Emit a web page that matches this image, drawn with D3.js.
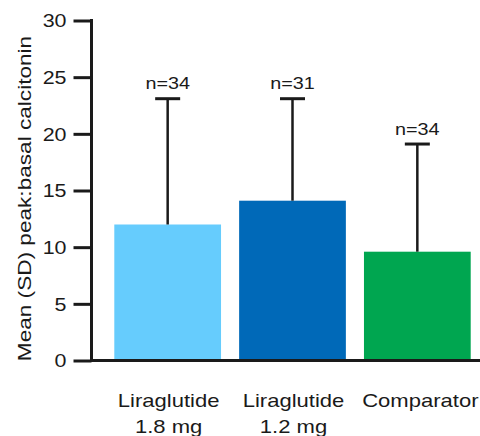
<!DOCTYPE html>
<html>
<head>
<meta charset="utf-8">
<script src="https://cdn.jsdelivr.net/npm/d3@7"></script>
<style>
  html, body { margin: 0; padding: 0; background: #fff; }
  svg { display: block; font-family: "Liberation Sans", Arial, Helvetica, sans-serif; }
</style>
</head>
<body>
<svg id="chart" width="480" height="436"></svg>
<script>
// Peak:basal calcitonin ratio by treatment group
const categories = ["Liraglutide 1.8 mg", "Liraglutide 1.2 mg", "Comparator"];
const labelLines = [["Liraglutide", "1.8 mg"], ["Liraglutide", "1.2 mg"], ["Comparator"]];
const means = [12.0, 14.1, 9.6];
const sds = [11.1, 9.0, 9.5];
const ns = [34, 31, 34];
const yTicks = [0, 5, 10, 15, 20, 25, 30];
const colors = ["#66ccfd", "#0069b8", "#00a650"];

const W = 480, H = 436;
const axisX = 91.5, baseY = 360.5, topY = 20.5;
const ink = "#1a1a1a";
const stretch = 1.16; // wide glyph look

const svg = d3.select("#chart");

const x = d3.scaleBand()
  .domain(categories)
  .range([114.3, 470.7])
  .paddingInner(0.145)
  .paddingOuter(0);

const y = d3.scaleLinear().domain([0, 30]).range([baseY, topY]);

// Bars
svg.append("g").selectAll("rect")
  .data(categories)
  .join("rect")
  .attr("x", d => x(d))
  .attr("y", (d, i) => y(means[i]))
  .attr("width", x.bandwidth())
  .attr("height", (d, i) => y(0) - y(means[i]))
  .attr("fill", (d, i) => colors[i]);

// Upper SD whiskers with caps
const err = svg.append("g").attr("stroke", ink);
categories.forEach((c, i) => {
  const cx = x(c) + x.bandwidth() / 2;
  const top = y(means[i] + sds[i]);
  err.append("line")
    .attr("x1", cx).attr("x2", cx)
    .attr("y1", y(means[i])).attr("y2", top)
    .attr("stroke-width", 2.5);
  err.append("line")
    .attr("x1", cx - 12.5).attr("x2", cx + 12.5)
    .attr("y1", top).attr("y2", top)
    .attr("stroke-width", 3);
  svg.append("text")
    .attr("transform", `translate(${cx},${top - 9.5}) scale(1.2,1)`)
    .attr("text-anchor", "middle")
    .attr("font-size", 16.5)
    .attr("fill", ink)
    .text(`n=${ns[i]}`);
});

// Y axis
const yAxis = d3.axisLeft(y)
  .tickValues(yTicks)
  .tickSize(18)
  .tickSizeOuter(0)
  .tickFormat(d3.format("d"));

const gy = svg.append("g")
  .attr("transform", `translate(${axisX},0)`)
  .call(yAxis);
gy.select(".domain").attr("stroke", ink).attr("stroke-width", 3)
  .attr("d", `M0,${topY - 1.5}V${baseY + 1.5}`);
gy.selectAll(".tick line").attr("stroke", ink).attr("stroke-width", 3);
gy.selectAll(".tick text")
  .attr("x", null)
  .attr("dy", "0.35em")
  .attr("text-anchor", "end")
  .attr("transform", `translate(-25,0) scale(${stretch},1)`)
  .attr("font-family", "Liberation Sans, Arial, sans-serif")
  .attr("font-size", 18.5)
  .attr("fill", ink);

// X axis baseline
svg.append("line")
  .attr("x1", axisX - 1.5).attr("x2", W)
  .attr("y1", baseY).attr("y2", baseY)
  .attr("stroke", ink)
  .attr("stroke-width", 3);

// Category labels
categories.forEach((c, i) => {
  const cx = x(c) + x.bandwidth() / 2;
  labelLines[i].forEach((line, j) => {
    svg.append("text")
      .attr("transform", `translate(${cx + (i === 2 ? 3 : 1)},${406.5 + j * 26}) scale(${stretch},1)`)
      .attr("text-anchor", "middle")
      .attr("font-size", 19)
      .attr("fill", ink)
      .text(line);
  });
});

// Y axis title
svg.append("text")
  .attr("transform", `translate(30.5,198.5) rotate(-90) scale(1.19,1)`)
  .attr("text-anchor", "middle")
  .attr("font-size", 19)
  .attr("fill", ink)
  .text("Mean (SD) peak:basal calcitonin");
</script>
</body>
</html>
